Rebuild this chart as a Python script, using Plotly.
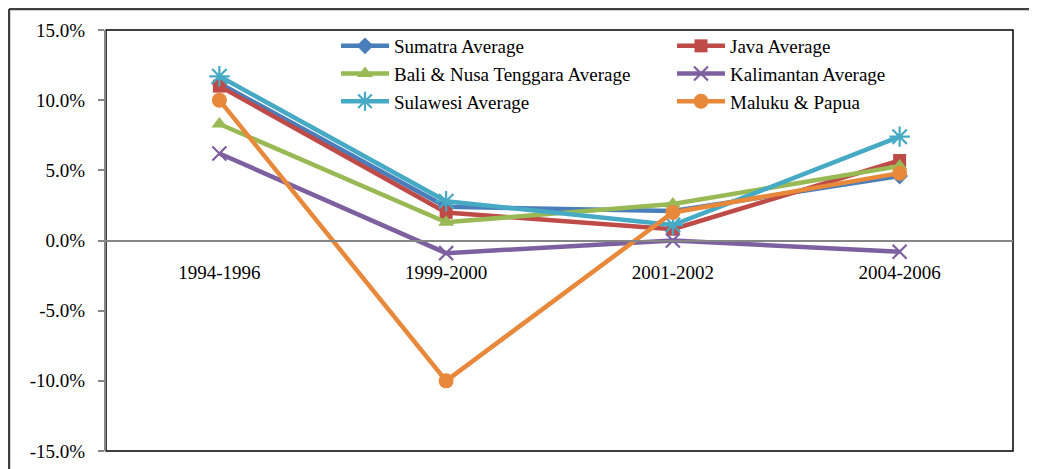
import plotly.graph_objects as go

categories = ["1994-1996", "1999-2000", "2001-2002", "2004-2006"]

sumatra = [11.2, 2.4, 2.1, 4.6]
java = [11.0, 2.0, 0.8, 5.7]
bali = [8.3, 1.3, 2.6, 5.3]
kalimantan = [6.2, -0.9, 0.0, -0.8]
sulawesi = [11.7, 2.8, 1.1, 7.4]
maluku = [10.0, -10.0, 2.0, 4.8]

y_tick_values = [-15, -10, -5, 0, 5, 10, 15]
y_tick_labels = ["-15.0%", "-10.0%", "-5.0%", "0.0%", "5.0%", "10.0%", "15.0%"]

series_names = ["Sumatra Average", "Java Average", "Bali & Nusa Tenggara Average",
                "Kalimantan Average", "Sulawesi Average", "Maluku & Papua"]
series_values = [sumatra, java, bali, kalimantan, sulawesi, maluku]
colors = ["#4A7EBB", "#BE4B48", "#98B954", "#7D60A0", "#46AAC5", "#E8883A"]
symbols = ["diamond", "square", "triangle-up", "x-thin-open", "asterisk-open", "circle"]
sizes = [13, 13, 14, 14, 17, 15]

# page body has an 8px margin, so the figure is sized/offset to compensate
W, H = 1029, 461
L, R, T, B = 98, 24, 22, 18
pw, ph = W - L - R, H - T - B

fig = go.Figure()
for name, vals, c, s, sz in zip(series_names, series_values, colors, symbols, sizes):
    open_sym = s.endswith("open")
    fig.add_trace(go.Scatter(
        x=categories, y=vals, name=name, mode="lines+markers",
        line=dict(color=c, width=4.5),
        marker=dict(symbol=s, size=sz, color=c,
                    line=dict(color=c, width=2.2 if open_sym else 0)),
    ))

fig.update_layout(
    width=W, height=H,
    margin=dict(l=L, r=R, t=T, b=B),
    paper_bgcolor="white", plot_bgcolor="white",
    font=dict(family="Liberation Serif", size=19, color="black"),
    showlegend=True,
    legend=dict(
        orientation="h", x=(328 - L) / pw, xanchor="left",
        y=1 + (T - 19) / ph, yanchor="top",
        entrywidth=273, entrywidthmode="pixels",
        font=dict(family="Liberation Serif", size=19, color="black"),
        bgcolor="rgba(255,255,255,0)", traceorder="normal",
        itemwidth=48,
    ),
    xaxis=dict(
        type="category", range=[-0.5, 3.5], anchor="free", position=0.5,
        showline=True, linecolor="#868686", linewidth=2,
        ticks="", showgrid=False, zeroline=False, automargin=False,
        tickfont=dict(family="Liberation Serif", size=19, color="black"),
        ticklabelstandoff=15,
    ),
    yaxis=dict(
        range=[-15, 15], tickvals=y_tick_values, ticktext=y_tick_labels,
        showline=True, linecolor="#868686", linewidth=2,
        ticks="outside", ticklen=6, tickcolor="#868686", tickwidth=2,
        showgrid=False, zeroline=False, automargin=False,
        tickfont=dict(family="Liberation Serif", size=19, color="black"),
        ticklabelstandoff=9,
    ),
    shapes=[
        dict(type="rect", xref="paper", yref="paper", x0=0, x1=1, y0=0, y1=1,
             line=dict(color="black", width=1.5), layer="below"),
        dict(type="line", xref="paper", yref="paper",
             x0=(1 - L) / pw, x1=(W + 5 - L) / pw, y0=1 + (T - 1) / ph, y1=1 + (T - 1) / ph,
             line=dict(color="#404040", width=2.5)),
        dict(type="line", xref="paper", yref="paper",
             x0=(1 - L) / pw, x1=(1 - L) / pw, y0=1 + (T - 1) / ph, y1=-(B + 10) / ph,
             line=dict(color="#404040", width=2.5)),
    ],
)

fig.write_html("out.html")
